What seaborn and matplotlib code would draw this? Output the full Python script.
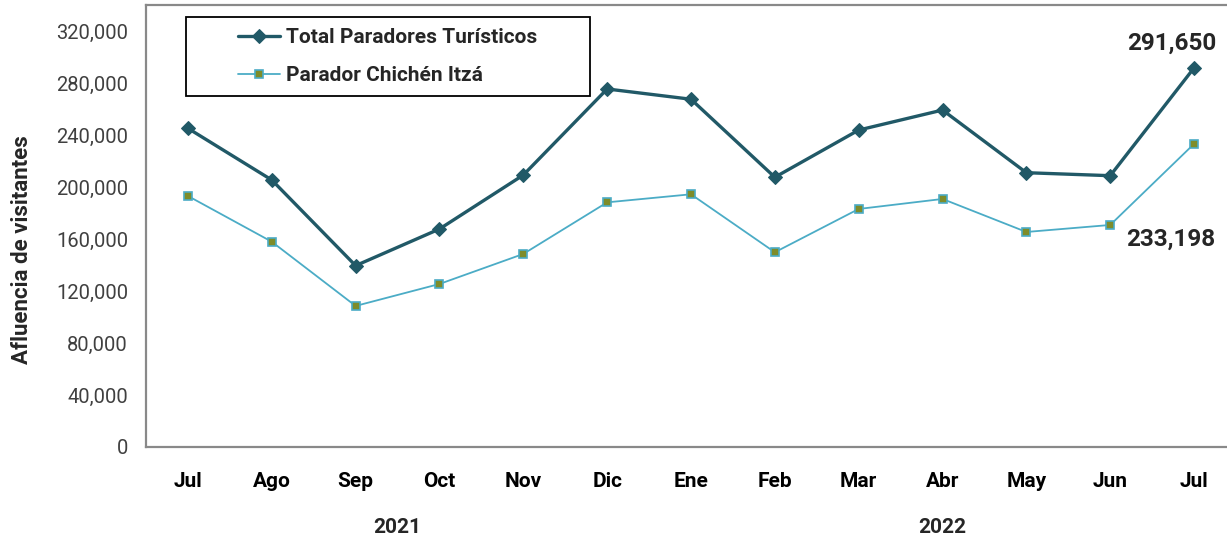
import pandas as pd
import numpy as np
import matplotlib.pyplot as plt
import seaborn as sns
from matplotlib.patches import Rectangle
from matplotlib.transforms import blended_transform_factory

meses = ['Jul', 'Ago', 'Sep', 'Oct', 'Nov', 'Dic', 'Ene', 'Feb', 'Mar', 'Abr', 'May', 'Jun', 'Jul']
anios = ['2021'] * 6 + ['2022'] * 7
total = [245150, 205400, 139500, 167700, 209200, 275400, 267500, 207500, 243800, 259200, 211000, 208700, 291650]
chichen = [193100, 157900, 108500, 125400, 148500, 188200, 194400, 149800, 183100, 190800, 165400, 170800, 233198]

data = pd.DataFrame({'idx': range(len(meses)), 'mes': meses, 'anio': anios,
                     'total': total, 'chichen': chichen})

sns.set_style('white')
plt.rcParams['font.family'] = ['Roboto', 'DejaVu Sans']

fig = plt.figure(figsize=(12.27, 5.39), dpi=100)
ax = fig.add_axes([146/1227, 1 - 447/539, 1090/1227, 442/539])

c_total = '#215967'
c_chi = '#4BACC6'

sns.lineplot(data=data, x='idx', y='total', ax=ax, color=c_total, linewidth=2.4,
             marker='D', markersize=7, markeredgecolor=c_total, markerfacecolor=c_total,
             label='Total Paradores Turísticos')
sns.lineplot(data=data, x='idx', y='chichen', ax=ax, color=c_chi, linewidth=1.3,
             marker='s', markersize=5.5, markeredgecolor=c_chi, markeredgewidth=1.2,
             markerfacecolor='#7E8C2A', label='Parador Chichén Itzá')

ax.set_xlim(-0.5, 12.5)
ax.set_ylim(0, 340000)
ax.set_yticks(np.arange(0, 320001, 40000))
ax.set_yticklabels([f'{v:,.0f}' for v in np.arange(0, 320001, 40000)])
ax.set_xticks(data['idx'])
ax.set_xticklabels(meses, fontweight='bold')
ax.tick_params(axis='y', length=0, pad=13, labelsize=14.5, labelcolor='#404040')
ax.tick_params(axis='x', length=0, pad=18, labelsize=15, labelcolor='black')
ax.set_xlabel('')
ax.set_ylabel('')

for s in ax.spines.values():
    s.set_color('#898989')
    s.set_linewidth(1.6)

# años debajo de los meses
trans = blended_transform_factory(ax.transData, ax.transAxes)
for anio in ['2021', '2022']:
    pos = data.loc[data['anio'] == anio, 'idx'].mean()
    ax.text(pos, -0.183, anio, transform=trans, ha='center', va='center',
            fontsize=15, fontweight='bold')

fig.text(22/1227, 1 - 250/539, 'Afluencia de visitantes', rotation=90,
         ha='center', va='center', fontsize=16, fontweight='bold')

# etiquetas del ultimo punto
ax.annotate(f'{total[-1]:,}', (data['idx'].iloc[-1], total[-1]), xytext=(-16, 18),
            textcoords='offset points', ha='center', va='center',
            fontsize=17.5, fontweight='bold')
ax.annotate(f'{chichen[-1]:,}', (data['idx'].iloc[-1], chichen[-1]), xytext=(-17, -69),
            textcoords='offset points', ha='center', va='center',
            fontsize=17.5, fontweight='bold')

# leyenda con caja
x0, y0 = 40/1090, (447-96)/442
w, h = 404/1090, 79/442
ax.add_patch(Rectangle((x0, y0), w, h, transform=ax.transAxes, fill=False,
                       edgecolor='black', linewidth=1.3, zorder=5))
leg = ax.legend(loc='center', bbox_to_anchor=(x0, y0, w, h), frameon=False,
                prop={'weight': 'bold', 'size': 15}, handlelength=2.0,
                handletextpad=0.3, labelspacing=0.9)

fig.savefig('out.png', dpi=100)
